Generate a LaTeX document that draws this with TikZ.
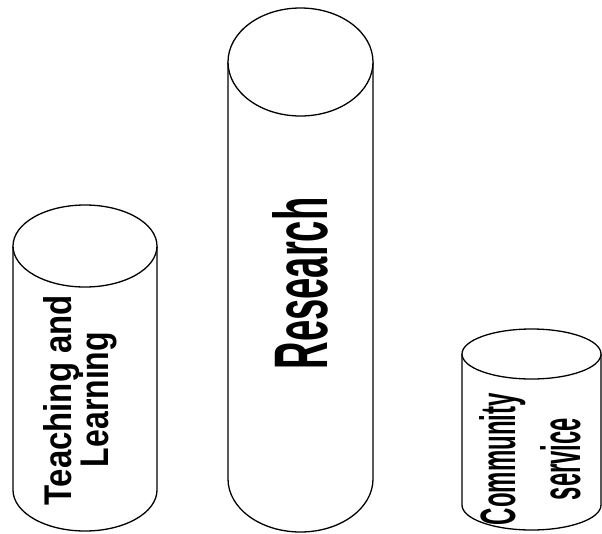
\documentclass[tikz,border=0pt]{standalone}
\usepackage{fontspec}
\setmainfont{Liberation Sans}
\usepackage{graphicx}
\tikzset{
  cyl/.style={draw=black, line width=1.3pt, fill=white},
  lbl/.style={rotate=90, anchor=base, inner sep=0pt, outer sep=0pt, font=\bfseries}
}
\newcommand{\fitbox}[3]{\resizebox{#1pt}{#2pt}{#3}}
\begin{document}
\begin{tikzpicture}[x=1pt, y=-1pt]
\useasboundingbox (0,0) rectangle (602,533);
% left cylinder
\draw[cyl] (13,246) -- (13,490) arc[start angle=180, end angle=360, x radius=72pt, y radius=41pt] -- (157,246);
\draw[cyl] (85,246) ellipse [x radius=72pt, y radius=41pt];
% middle cylinder
\draw[cyl] (228,62) -- (228,479) arc[start angle=180, end angle=360, x radius=72.5pt, y radius=53pt] -- (373,62);
\draw[cyl] (300.5,62) ellipse [x radius=72.5pt, y radius=54pt];
% right cylinder
\draw[cyl] (462,354) -- (462,505) arc[start angle=180, end angle=360, x radius=69.5pt, y radius=25pt] -- (601,354);
\draw[cyl] (531.5,354) ellipse [x radius=69.5pt, y radius=25pt];
% labels
\node[lbl] (teach) at (71,400) {\fitbox{210}{28}{Teaching and}};
\node[lbl] (learn) at (108,399.5) {\fitbox{135}{29}{Learning}};
\node[lbl] (res) at (327,283.5) {\fitbox{172}{55}{Research}};
\node[lbl] (comm) at (515,459) {\fitbox{132}{36}{Community}};
\node[lbl] (serv) at (580,459) {\fitbox{82}{40}{service}};
\end{tikzpicture}
\end{document}
